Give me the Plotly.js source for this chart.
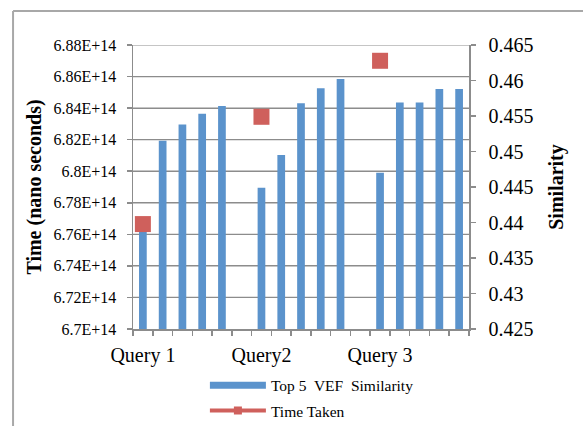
<!DOCTYPE html>
<html>
<head>
<meta charset="utf-8">
<script src="https://cdn.plot.ly/plotly-3.0.1.min.js"></script>
<style>
  html, body { margin: 0; padding: 0; background: #ffffff; }
  #chart { width: 583px; height: 426px; }
</style>
</head>
<body>
<div id="chart"></div>
<script>
// Category labels (blank entries are the unlabeled slots, including the gaps)
const categories = ["Query 1", "", "", "", "", "", "Query2", "", "", "", "", "", "Query 3", "", "", "", ""];
// Top 5 VEF Similarity (right axis)
const similarity = [0.4388, 0.4515, 0.4538, 0.4553, 0.4564, null,
                    0.4449, 0.4495, 0.4568, 0.4589, 0.4602, null,
                    0.4470, 0.4569, 0.4569, 0.4588, 0.4588];
// Time Taken (nano seconds, left axis)
const timeTaken = [6.7665e14, null, null, null, null, null,
                   6.8345e14, null, null, null, null, null,
                   6.870e14, null, null, null, null];
// Left axis tick labels
const timeTickLabels = ["6.7E+14", "6.72E+14", "6.74E+14", "6.76E+14", "6.78E+14",
                        "6.8E+14", "6.82E+14", "6.84E+14", "6.86E+14", "6.88E+14"];
// Right axis tick labels
const simTickLabels = ["0.425", "0.43", "0.435", "0.44", "0.445", "0.45", "0.455", "0.46", "0.465"];
const seriesNames = ["Top 5  VEF  Similarity", "Time Taken"];

const xPos = categories.map((_, i) => i + 1);
const timeVals = timeTickLabels.map(Number);
const simVals = simTickLabels.map(Number);
const FONT = "Liberation Serif, Times New Roman, serif";
const AXIS = "#8c8c8c";
const BLUE = "#5b93cc";
const RED = "#cf605c";
const timeRange = [timeVals[0], timeVals[timeVals.length - 1]];

const traces = [
  { // bars: similarity, right axis
    type: "bar",
    name: seriesNames[0],
    x: xPos,
    y: similarity,
    xaxis: "x",
    yaxis: "y2",
    showlegend: false,
    marker: { color: BLUE }
  },
  { // time taken markers, drawn on top
    type: "scatter",
    mode: "lines+markers",
    name: seriesNames[1],
    x: xPos,
    y: timeTaken,
    xaxis: "x",
    yaxis: "y3",
    connectgaps: false,
    showlegend: false,
    line: { color: RED, width: 4 },
    marker: { symbol: "square", size: 16, color: RED }
  },
  { // legend entry for bars (Excel-style wide swatch)
    type: "scatter",
    mode: "lines",
    name: seriesNames[0],
    x: [null],
    y: [null],
    xaxis: "x",
    yaxis: "y",
    legendgroup: "a",
    line: { color: BLUE, width: 7 }
  },
  { // legend entry for time taken
    type: "scatter",
    mode: "lines+markers",
    name: seriesNames[1],
    x: [null],
    y: [null],
    xaxis: "x",
    yaxis: "y",
    legendgroup: "b",
    line: { color: RED, width: 4 },
    marker: { symbol: "square", size: 8, color: RED }
  }
];

// horizontal gridlines at the left-axis tick values
const gridShapes = timeVals.slice(1).map(v => ({
  type: "line", xref: "paper", yref: "y", x0: 0, x1: 1, y0: v, y1: v, layer: "below",
  line: { color: AXIS, width: 1.2 }
}));

const layout = {
  width: 583,
  height: 426,
  margin: { l: 133, r: 114, t: 45, b: 97, autoexpand: false },
  paper_bgcolor: "#ffffff",
  plot_bgcolor: "rgba(0,0,0,0)",
  font: { family: FONT, color: "#000000" },
  showlegend: true,
  bargap: 0.61,
  xaxis: {
    automargin: false,
    range: [0.5, categories.length + 0.5],
    tickmode: "array",
    tickvals: xPos,
    ticktext: categories,
    ticks: "",
    ticklen: 0,
    ticklabelstandoff: 7,
    tickfont: { family: FONT, size: 20, color: "#000000" },
    showgrid: false,
    zeroline: false,
    showline: true,
    linecolor: AXIS,
    linewidth: 1.5,
    minor: { tickmode: "linear", tick0: 0.5, dtick: 1, ticks: "outside", ticklen: 5,
             tickcolor: AXIS, tickwidth: 1.5, showgrid: false }
  },
  yaxis: {
    automargin: false,
    side: "left",
    range: timeRange,
    tickmode: "array",
    tickvals: timeVals,
    ticktext: timeTickLabels,
    ticks: "outside",
    ticklen: 5,
    tickcolor: AXIS,
    tickwidth: 1.5,
    ticklabelstandoff: 7,
    tickfont: { family: FONT, size: 16, color: "#000000" },
    showgrid: true,
    gridcolor: AXIS,
    gridwidth: 1.2,
    zeroline: false,
    showline: true,
    linecolor: AXIS,
    linewidth: 1.5,
    title: { text: "<b>Time (nano seconds)</b>", font: { family: FONT, size: 20, color: "#000000" }, standoff: 6 }
  },
  yaxis2: {
    automargin: false,
    side: "right",
    overlaying: "y",
    range: [simVals[0], simVals[simVals.length - 1]],
    tickmode: "array",
    tickvals: simVals,
    ticktext: simTickLabels,
    ticks: "outside",
    ticklen: 5,
    tickcolor: AXIS,
    tickwidth: 1.5,
    ticklabelstandoff: 9,
    tickfont: { family: FONT, size: 20, color: "#000000" },
    showgrid: false,
    zeroline: false,
    showline: true,
    linecolor: AXIS,
    linewidth: 1.5,
    title: { text: "<b>Similarity</b>", font: { family: FONT, size: 20, color: "#000000" }, standoff: 16 }
  },
  yaxis3: {
    automargin: false,
    overlaying: "y",
    range: timeRange,
    visible: false,
    showgrid: false,
    zeroline: false
  },
  legend: {
    orientation: "v",
    traceorder: "grouped",
    tracegroupgap: 2,
    x: 0.214,
    xanchor: "left",
    y: -0.14,
    yanchor: "top",
    itemwidth: 56,
    font: { family: FONT, size: 15.5, color: "#000000" },
    bgcolor: "rgba(0,0,0,0)"
  },
  shapes: gridShapes.concat([
    { type: "line", xref: "paper", yref: "paper", x0: -0.357, x1: -0.357, y0: 1.12, y1: -0.4,
      line: { color: "#a8a8a8", width: 2 } },
    { type: "line", xref: "paper", yref: "paper", x0: -0.357, x1: 1.4, y0: 1.12, y1: 1.12,
      line: { color: "#a8a8a8", width: 2 } }
  ])
};

Plotly.newPlot("chart", traces, layout, { displayModeBar: false, staticPlot: true });
</script>
</body>
</html>
